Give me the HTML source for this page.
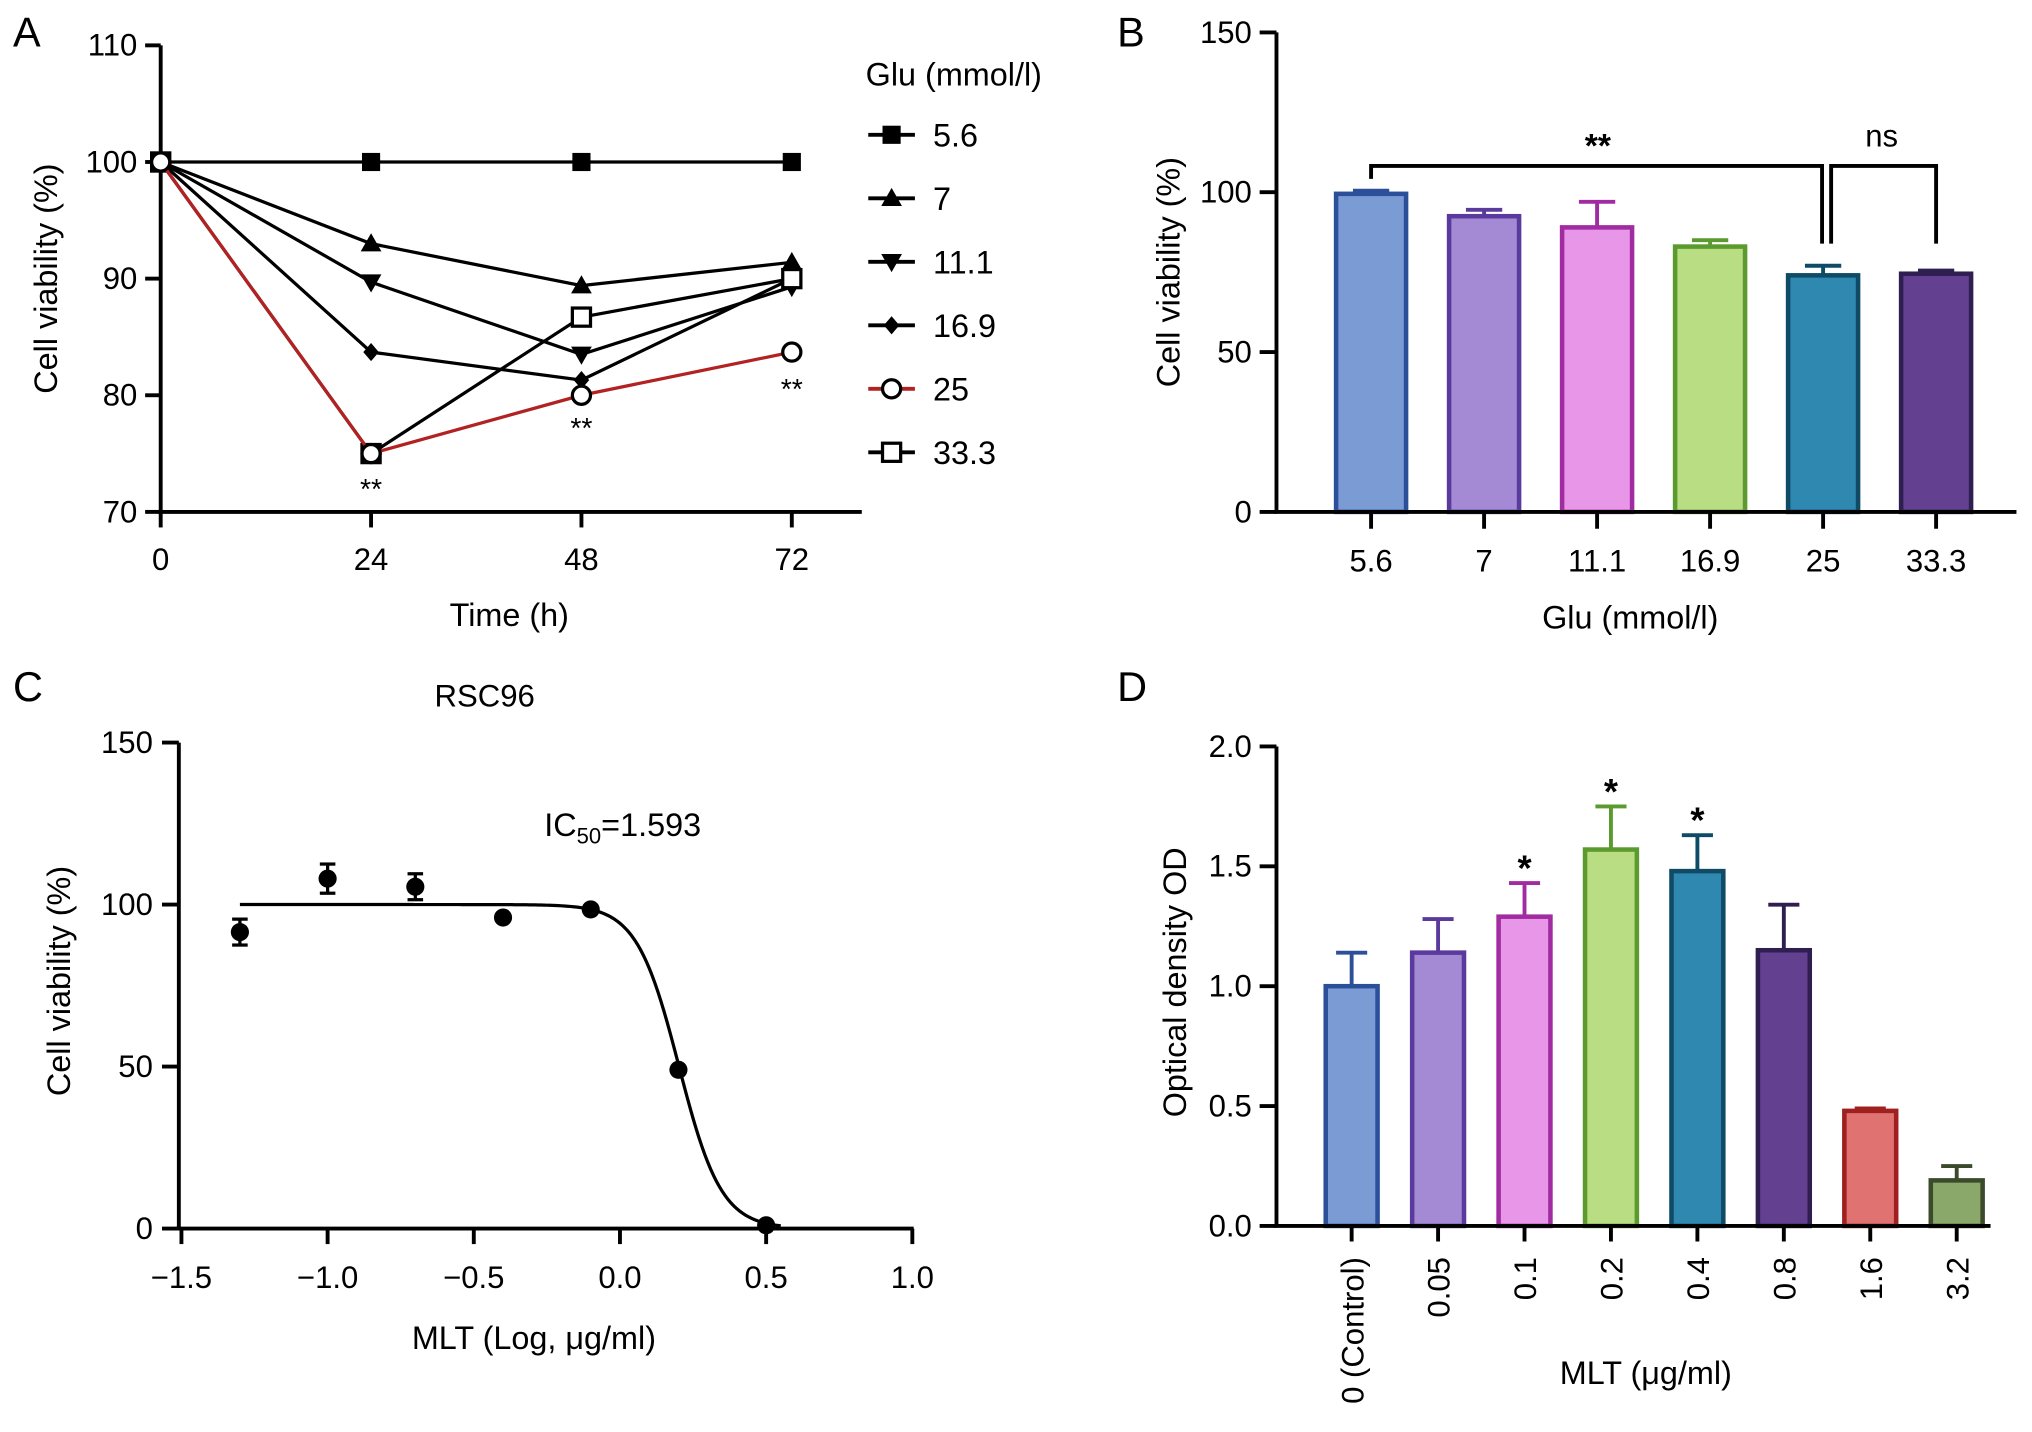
<!DOCTYPE html>
<html><head><meta charset="utf-8"><style>
html,body{margin:0;padding:0;background:#fff}
svg{display:block;font-family:"Liberation Sans",Arial,sans-serif}
</style></head><body>
<svg id="fig" width="2032" height="1432" viewBox="0 0 1568 1105" xmlns="http://www.w3.org/2000/svg">
<g id="A"></g>
<g id="B"></g>
<g id="C"></g>
<g id="D"></g>
</svg>
<script>
// Panel A data
const aTimes=[0,24,48,72];
const aSeries=["5.6","7","11.1","16.9","25","33.3"];
const aV56=[100,100,100,100];
const aV7=[100,93,89.4,91.4];
const aV111=[100,89.7,83.5,89.3];
const aV169=[100,83.7,81.3,90];
const aV25=[100,75,80,83.7];
const aV333=[100,75,86.7,90];
const aYTicks=[70,80,90,100,110];
// Panel B data
const bCats=["5.6","7","11.1","16.9","25","33.3"];
const bVals=[99.5,92.5,89,83,74,74.5];
const bErr=[1,2,8,2,3,1];
const bYTicks=[0,50,100,150];
// Panel C data
const cX=[-1.3,-1.0,-0.7,-0.4,-0.1,0.2,0.5];
const cY=[91.5,108,105.5,96,98.5,49,1];
const cErr=[4,4.5,4,1,1,1,1];
const cXTicks=[-1.5,-1.0,-0.5,0.0,0.5,1.0];
const cYTicks=[0,50,100,150];
const cLogIC50=0.202, cHill=6;
// Panel D data
const dCats=["0 (Control)","0.05","0.1","0.2","0.4","0.8","1.6","3.2"];
const dVals=[1.0,1.14,1.29,1.57,1.48,1.15,0.48,0.19];
const dErr=[0.14,0.14,0.14,0.18,0.15,0.19,0.01,0.06];
const dStars=["","","*","*","*","","",""];
const dYTicks=[0.0,0.5,1.0,1.5,2.0];

const NS="http://www.w3.org/2000/svg";
function mk(p,t,a,txt){const e=document.createElementNS(NS,t);for(const k in a)e.setAttribute(k,a[k]);if(txt!==undefined)e.textContent=txt;p.appendChild(e);return e;}
const fills=["#7b9bd4","#a48ad4","#e896e8","#b9dd82","#2e88b0","#634090","#e07272","#8aa86a"];
const strokes=["#2c4f9a","#5b3a9e","#a12ba0","#5a9a2e","#0f4a66","#2e1f50","#a02020","#3a4a2a"];
const TF=24, AF=25;

// ===== Panel A =====
(function(){
const g=document.getElementById('A');
const x=t=>124+(t/72)*(611-124), y=v=>395-(v-70)/40*360;
let e=mk(g,'text',{x:10,y:36,'font-size':32},'A');


mk(g,'line',{x1:124,y1:35,x2:124,y2:395,stroke:'#000','stroke-width':3});
mk(g,'line',{x1:122,y1:395,x2:665,y2:395,stroke:'#000','stroke-width':3});
aYTicks.forEach(v=>{mk(g,'line',{x1:112,y1:y(v),x2:124,y2:y(v),stroke:'#000','stroke-width':3});
 e=mk(g,'text',{x:106,y:y(v)+8,'font-size':TF,'text-anchor':'end'},v);
 
 });
aTimes.forEach(t=>{mk(g,'line',{x1:x(t),y1:395,x2:x(t),y2:407,stroke:'#000','stroke-width':3});
 e=mk(g,'text',{x:x(t),y:440,'font-size':TF,'text-anchor':'middle'},t);
 
 });
e=mk(g,'text',{x:393,y:483,'font-size':AF,'text-anchor':'middle'},'Time (h)');


e=mk(g,'text',{x:0,y:0,'font-size':AF,'text-anchor':'middle',transform:'translate(44,215) rotate(-90)'},'Cell viability (%)');


const all=[aV56,aV7,aV111,aV169,aV25,aV333];
const marks=['sq','tri','tridown','dia','circ','opensq'];
function marker(p,m,cx,cy){
 if(m==='sq')return mk(p,'rect',{x:cx-7,y:cy-7,width:14,height:14,fill:'#000'});
 if(m==='tri')return mk(p,'polygon',{points:`${cx},${cy-8} ${cx-8},${cy+6} ${cx+8},${cy+6}`,fill:'#000'});
 if(m==='tridown')return mk(p,'polygon',{points:`${cx},${cy+8} ${cx-8},${cy-6} ${cx+8},${cy-6}`,fill:'#000'});
 if(m==='dia')return mk(p,'polygon',{points:`${cx},${cy-7} ${cx-6},${cy} ${cx},${cy+7} ${cx+6},${cy}`,fill:'#000'});
 if(m==='circ')return mk(p,'circle',{cx:cx,cy:cy,r:7,fill:'#fff',stroke:'#000','stroke-width':2.5});
 return mk(p,'rect',{x:cx-7,y:cy-7,width:14,height:14,fill:'#fff',stroke:'#000','stroke-width':2.5});
}
const order=[0,1,2,3,5,4];
order.forEach(i=>{const s=all[i];const col=i===4?'#b22222':'#000';
 const ln=mk(g,'polyline',{points:s.map((v,j)=>x(aTimes[j])+','+y(v)).join(' '),fill:'none',stroke:col,'stroke-width':2.5});
 
 
 s.forEach((v,j)=>{const m=marker(g,marks[i],x(aTimes[j]),y(v));
  
  });
});
[[24,75,377],[48,80,330],[72,83.7,300]].forEach(a=>{e=mk(g,'text',{x:x(a[0]),y:a[2]+8,'font-size':22,'text-anchor':'middle'},'**');
 
 });
e=mk(g,'text',{x:668,y:66,'font-size':AF},'Glu (mmol/l)');


aSeries.forEach((nm,i)=>{const ly=104+i*49;const col=i===4?'#b22222':'#000';
 const lg=mk(g,'g',{});
 
 
 mk(lg,'line',{x1:670,y1:ly,x2:706,y2:ly,stroke:col,'stroke-width':3});
 marker(lg,marks[i],688,ly);
 mk(lg,'text',{x:720,y:ly+9,'font-size':AF},nm);});
})();

// ===== Panel B =====
(function(){
const g=document.getElementById('B');
const y=v=>395-v/150*370, cx=i=>1058+i*87.2;
let e=mk(g,'text',{x:862,y:36,'font-size':32},'B');


bCats.forEach((c,i)=>{
 const ey=y(bVals[i]+bErr[i]);
 mk(g,'line',{x1:cx(i),y1:y(bVals[i]),x2:cx(i),y2:ey,stroke:strokes[i],'stroke-width':3});
 mk(g,'line',{x1:cx(i)-14,y1:ey,x2:cx(i)+14,y2:ey,stroke:strokes[i],'stroke-width':3});
 const r=mk(g,'rect',{x:cx(i)-27,y:y(bVals[i]),width:54,height:395-y(bVals[i]),fill:fills[i],stroke:strokes[i],'stroke-width':3.5});
 
 
 mk(g,'line',{x1:cx(i),y1:395,x2:cx(i),y2:408,stroke:'#000','stroke-width':3});
 e=mk(g,'text',{x:cx(i),y:441,'font-size':TF,'text-anchor':'middle'},c);
 
 
});
mk(g,'line',{x1:985,y1:25,x2:985,y2:396,stroke:'#000','stroke-width':3});
mk(g,'line',{x1:983,y1:395,x2:1556,y2:395,stroke:'#000','stroke-width':3});
bYTicks.forEach(v=>{mk(g,'line',{x1:972,y1:y(v),x2:985,y2:y(v),stroke:'#000','stroke-width':3});
 e=mk(g,'text',{x:966,y:y(v)+8,'font-size':TF,'text-anchor':'end'},v);
 
 });
e=mk(g,'text',{x:0,y:0,'font-size':AF,'text-anchor':'middle',transform:'translate(910,210) rotate(-90)'},'Cell viability (%)');


e=mk(g,'text',{x:1258,y:485,'font-size':AF,'text-anchor':'middle'},'Glu (mmol/l)');


e=mk(g,'polyline',{points:`${cx(0)},138 ${cx(0)},128 1406,128 1406,188`,fill:'none',stroke:'#000','stroke-width':3});


e=mk(g,'polyline',{points:`1413,188 1413,128 ${cx(5)},128 ${cx(5)},188`,fill:'none',stroke:'#000','stroke-width':3});


e=mk(g,'text',{x:1233,y:121,'font-size':26,'font-weight':'bold','text-anchor':'middle'},'**');


e=mk(g,'text',{x:1452,y:113,'font-size':TF,'text-anchor':'middle'},'ns');


})();

// ===== Panel C =====
(function(){
const g=document.getElementById('C');
const x=v=>140+(v+1.5)/2.5*564, y=v=>948-v/150*375;
let e=mk(g,'text',{x:10,y:541,'font-size':32},'C');


e=mk(g,'text',{x:374,y:545,'font-size':TF,'text-anchor':'middle'},'RSC96');


mk(g,'line',{x1:138,y1:573,x2:138,y2:949,stroke:'#000','stroke-width':3});
mk(g,'line',{x1:136,y1:948,x2:705,y2:948,stroke:'#000','stroke-width':3});
cYTicks.forEach(v=>{mk(g,'line',{x1:125,y1:y(v),x2:138,y2:y(v),stroke:'#000','stroke-width':3});
 e=mk(g,'text',{x:118,y:y(v)+8,'font-size':TF,'text-anchor':'end'},v);
 
 });
cXTicks.forEach(v=>{mk(g,'line',{x1:x(v),y1:948,x2:x(v),y2:960,stroke:'#000','stroke-width':3});
 e=mk(g,'text',{x:x(v),y:994,'font-size':TF,'text-anchor':'middle'},(v<0?'\u2212':'')+Math.abs(v).toFixed(1));
 
 });
e=mk(g,'text',{x:412,y:1041,'font-size':AF,'text-anchor':'middle'},'MLT (Log, \u03bcg/ml)');


e=mk(g,'text',{x:0,y:0,'font-size':AF,'text-anchor':'middle',transform:'translate(54,757) rotate(-90)'},'Cell viability (%)');


const pts=[];for(let v=-1.3;v<=0.56;v+=0.01){pts.push(x(v)+','+y(100/(1+Math.pow(10,(v-cLogIC50)*cHill))));}
e=mk(g,'polyline',{points:pts.join(' '),fill:'none',stroke:'#000','stroke-width':2.5});


cX.forEach((v,i)=>{
 if(cErr[i]>2){mk(g,'line',{x1:x(v),y1:y(cY[i]-cErr[i]),x2:x(v),y2:y(cY[i]+cErr[i]),stroke:'#000','stroke-width':2.5});
  mk(g,'line',{x1:x(v)-6,y1:y(cY[i]+cErr[i]),x2:x(v)+6,y2:y(cY[i]+cErr[i]),stroke:'#000','stroke-width':2.5});
  mk(g,'line',{x1:x(v)-6,y1:y(cY[i]-cErr[i]),x2:x(v)+6,y2:y(cY[i]-cErr[i]),stroke:'#000','stroke-width':2.5});}
 const c=mk(g,'circle',{cx:x(v),cy:y(cY[i]),r:7,fill:'#000'});
 
 });
const t=mk(g,'text',{x:420,y:645,'font-size':AF});


t.innerHTML='IC<tspan font-size="17" dy="6">50</tspan><tspan dy="-6">=1.593</tspan>';
})();

// ===== Panel D =====
(function(){
const g=document.getElementById('D');
const y=v=>946-v/2*370, cx=i=>1043+i*66.7;
let e=mk(g,'text',{x:862,y:541,'font-size':32},'D');


dCats.forEach((c,i)=>{
 const ey=y(dVals[i]+dErr[i]);
 mk(g,'line',{x1:cx(i),y1:y(dVals[i]),x2:cx(i),y2:ey,stroke:strokes[i],'stroke-width':3});
 mk(g,'line',{x1:cx(i)-12,y1:ey,x2:cx(i)+12,y2:ey,stroke:strokes[i],'stroke-width':3});
 const r=mk(g,'rect',{x:cx(i)-20,y:y(dVals[i]),width:40,height:946-y(dVals[i]),fill:fills[i],stroke:strokes[i],'stroke-width':3.5});
 
 
 if(dStars[i]){e=mk(g,'text',{x:cx(i),y:ey-2,'font-size':28,'font-weight':'bold','text-anchor':'middle'},dStars[i]);
  
  }
 mk(g,'line',{x1:cx(i),y1:946,x2:cx(i),y2:958,stroke:'#000','stroke-width':3});
 e=mk(g,'text',{x:0,y:0,'font-size':TF,'text-anchor':'end',transform:`translate(${cx(i)+9},970) rotate(-90)`},c);
 
 
});
mk(g,'line',{x1:985,y1:576,x2:985,y2:947,stroke:'#000','stroke-width':3});
mk(g,'line',{x1:983,y1:946,x2:1536,y2:946,stroke:'#000','stroke-width':3});
dYTicks.forEach(v=>{mk(g,'line',{x1:972,y1:y(v),x2:985,y2:y(v),stroke:'#000','stroke-width':3});
 e=mk(g,'text',{x:966,y:y(v)+8,'font-size':TF,'text-anchor':'end'},v.toFixed(1));
 
 });
e=mk(g,'text',{x:0,y:0,'font-size':AF,'text-anchor':'middle',transform:'translate(915,758) rotate(-90)'},'Optical density OD');


e=mk(g,'text',{x:1270,y:1068,'font-size':AF,'text-anchor':'middle'},'MLT (\u03bcg/ml)');


})();
</script>
</body></html>
